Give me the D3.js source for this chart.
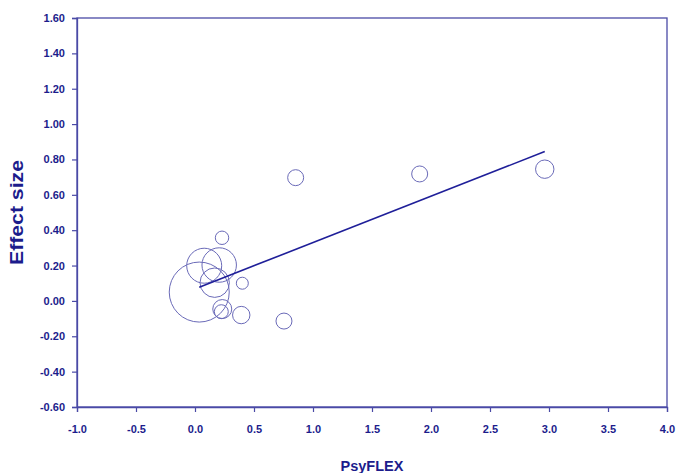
<!DOCTYPE html>
<html>
<head>
<meta charset="utf-8">
<script src="https://cdn.jsdelivr.net/npm/d3@7"></script>
<style>
  html, body { margin: 0; padding: 0; background: #fff; }
  svg { display: block; }
  text { font-family: "Liberation Sans", Arial, Helvetica, sans-serif; font-weight: bold; fill: #1c1c8c; }
</style>
</head>
<body>
<svg id="chart" width="678" height="473"></svg>
<script>
// Data: studies (x = PsyFLEX, y = effect size, w = relative study weight)
const studyX = [0.229, 0.078, 0.205, 0.167, 0.036, 0.401, 0.231, 0.223, 0.392, 0.754, 0.853, 1.904, 2.964];
const studyY = [0.357, 0.199, 0.203, 0.103, 0.050, 0.100, -0.046, -0.061, -0.080, -0.114, 0.697, 0.718, 0.745];
const studyW = [5.0, 34, 33, 24, 100, 4.0, 10, 5.4, 8.4, 7.1, 7.1, 7.1, 9.4];
// Meta-regression line
const regIntercept = 0.068;
const regSlope = 0.262;
const xTicks = [-1.0, -0.5, 0.0, 0.5, 1.0, 1.5, 2.0, 2.5, 3.0, 3.5, 4.0];
const yTicks = [-0.60, -0.40, -0.20, 0.00, 0.20, 0.40, 0.60, 0.80, 1.00, 1.20, 1.40, 1.60];
const xTitle = "PsyFLEX";
const yTitle = "Effect size";

const svg = d3.select("#chart");
const margin = { left: 77, top: 18, right: 11, bottom: 66 };
const W = 678, H = 473;
const x = d3.scaleLinear().domain([-1, 4]).range([margin.left, W - margin.right]);
const y = d3.scaleLinear().domain([-0.6, 1.6]).range([H - margin.bottom, margin.top]);
const r = d3.scaleSqrt().domain([0, 100]).range([0, 30]);

const axisColor = "#4a4aa6";
const fmt = p => d => d.toFixed(p);

// frame
svg.append("rect")
  .attr("x", x(-1)).attr("y", y(1.6))
  .attr("width", x(4) - x(-1)).attr("height", y(-0.6) - y(1.6))
  .attr("fill", "none").attr("stroke", axisColor).attr("stroke-width", 1.3);

// axes
const xAxis = d3.axisBottom(x).tickValues(xTicks).tickFormat(fmt(1)).tickSize(5).tickPadding(13);
const gx = svg.append("g").attr("transform", `translate(0,${y(-0.6)})`).call(xAxis);
const yAxis = d3.axisLeft(y).tickValues(yTicks).tickFormat(fmt(2)).tickSize(5).tickPadding(7);
const gy = svg.append("g").attr("transform", `translate(${x(-1)},0)`).call(yAxis);
[gx, gy].forEach(g => {
  g.select(".domain").attr("stroke", axisColor).attr("stroke-width", 1.3);
  g.selectAll(".tick line").attr("stroke", axisColor).attr("stroke-width", 1.2);
  g.selectAll(".tick text").style("font-size", "11px").style("font-family", "'Liberation Sans', Arial, sans-serif")
    .style("font-weight", "bold").attr("fill", "#1c1c8c");
});

// circles
const pts = studyX.map((d, i) => ({ x: d, y: studyY[i], w: studyW[i] }));
svg.append("g").selectAll("circle").data(pts).join("circle")
  .attr("cx", d => x(d.x)).attr("cy", d => y(d.y)).attr("r", d => r(d.w))
  .attr("fill", "none").attr("stroke", "#6a6ab8").attr("stroke-width", 1);

// regression line
const xMin = d3.min(studyX), xMax = d3.max(studyX);
svg.append("line")
  .attr("x1", x(xMin)).attr("y1", y(regIntercept + regSlope * xMin))
  .attr("x2", x(xMax)).attr("y2", y(regIntercept + regSlope * xMax))
  .attr("stroke", "#1f1f99").attr("stroke-width", 1.6);

// titles
svg.append("text")
  .attr("x", (x(-1) + x(4)) / 2).attr("y", 471)
  .attr("text-anchor", "middle").style("font-size", "14.5px")
  .text(xTitle);
svg.append("text")
  .attr("transform", `translate(23,${(y(-0.6) + y(1.6)) / 2}) rotate(-90)`)
  .attr("text-anchor", "middle").style("font-size", "17.5px")
  .attr("textLength", 105).attr("lengthAdjust", "spacingAndGlyphs")
  .text(yTitle);
</script>
</body>
</html>
